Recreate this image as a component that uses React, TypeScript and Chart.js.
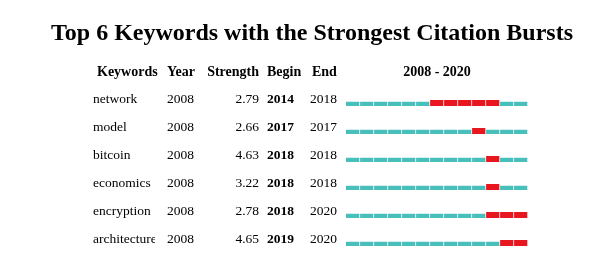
import React, { useEffect, useRef } from "react";
import { Chart, registerables } from "chart.js";

Chart.register(...registerables);

const TITLE = "Top 6 Keywords with the Strongest Citation Bursts";
const keywords = ["network", "model", "bitcoin", "economics", "encryption", "architecture"];
const years = ["2008", "2008", "2008", "2008", "2008", "2008"];
const strengths = ["2.79", "2.66", "4.63", "3.22", "2.78", "4.65"];
const begins = [2014, 2017, 2018, 2018, 2018, 2019];
const ends = [2018, 2017, 2018, 2018, 2020, 2020];
const RANGE_START = 2008;
const RANGE_END = 2020;
const headers = ["Keywords", "Year", "Strength", "Begin", "End"];

const TEAL = "#47BFBB";
const RED = "#E8171F";
const SERIF = '"Liberation Serif", "Times New Roman", serif';

const tableText = {
  id: "tableText",
  afterDraw(chart: any) {
    const ctx = chart.ctx;
    const y = chart.scales.y;
    const area = chart.chartArea;
    ctx.save();
    ctx.fillStyle = "#000";
    // title
    ctx.font = `bold 24px ${SERIF}`;
    ctx.textAlign = "center";
    ctx.textBaseline = "alphabetic";
    ctx.fillText(TITLE, 312, 40);
    // headers
    ctx.font = `bold 14px ${SERIF}`;
    ctx.textBaseline = "middle";
    const hy = 72;
    ctx.textAlign = "left";
    ctx.fillText(headers[0], 97, hy);
    ctx.fillText(headers[1], 167, hy);
    ctx.textAlign = "right";
    ctx.fillText(headers[2], 259, hy);
    ctx.textAlign = "left";
    ctx.fillText(headers[3], 267, hy);
    ctx.fillText(headers[4], 312, hy);
    ctx.textAlign = "center";
    ctx.fillText(`${RANGE_START} - ${RANGE_END}`, (area.left + area.right) / 2, hy);
    // rows
    keywords.forEach((kw, i) => {
      const ry = y.getPixelForValue(i) - 3.5;
      ctx.font = `13.5px ${SERIF}`;
      ctx.textAlign = "left";
      ctx.save();
      ctx.beginPath();
      ctx.rect(80, ry - 12, 75, 24);
      ctx.clip();
      ctx.fillText(kw, 93, ry);
      ctx.restore();
      ctx.fillText(years[i], 167, ry);
      ctx.textAlign = "right";
      ctx.fillText(strengths[i], 259, ry);
      ctx.textAlign = "left";
      ctx.font = `bold 13.5px ${SERIF}`;
      ctx.fillText(String(begins[i]), 267, ry);
      ctx.font = `13.5px ${SERIF}`;
      ctx.fillText(String(ends[i]), 310, ry);
    });
    ctx.restore();
  },
};

export default function App() {
  const ref = useRef<HTMLCanvasElement>(null);
  useEffect(() => {
    const yearList: number[] = [];
    for (let yr = RANGE_START; yr <= RANGE_END; yr++) yearList.push(yr);
    const inBurst = (row: number, yr: number) => yr >= begins[row] && yr <= ends[row];
    const datasets = yearList.map((yr) => ({
      label: String(yr),
      data: keywords.map(() => [yr, yr + 1]),
      grouped: false,
      barThickness: 6,
      borderSkipped: false as any,
      borderColor: "#ffffff",
      backgroundColor: (c: any) => (inBurst(c.dataIndex, yr) ? RED : TEAL),
      borderWidth: (c: any) =>
        inBurst(c.dataIndex, yr)
          ? { top: 0, right: 1, bottom: 0, left: 0 }
          : { top: 2, right: 1, bottom: 0, left: 0 },
    }));
    const chart = new Chart(ref.current!, {
      type: "bar",
      data: { labels: keywords, datasets: datasets as any },
      options: {
        indexAxis: "y",
        animation: false,
        responsive: false,
        devicePixelRatio: 1,
        layout: { padding: { left: 346, right: 70, top: 89, bottom: 3 } },
        scales: {
          x: { type: "linear", min: RANGE_START, max: RANGE_END + 1, display: false },
          y: { type: "category", display: false, offset: true },
        },
        plugins: { legend: { display: false }, tooltip: { enabled: false }, title: { display: false } },
      },
      plugins: [tableText],
    });
    return () => chart.destroy();
  }, []);
  return (
    <div style={{ position: "absolute", left: 0, top: 0, width: 598, height: 260, background: "#fff" }}>
      <canvas ref={ref} width={598} height={260} style={{ width: 598, height: 260 }} />
    </div>
  );
}
